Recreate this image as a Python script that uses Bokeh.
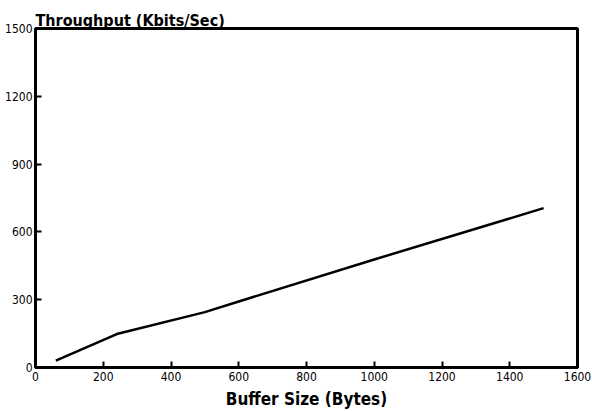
from bokeh.plotting import figure
from bokeh.models import Range1d, FixedTicker
from bokeh.embed import file_html
from bokeh.resources import INLINE

buffer_size = [60, 240, 500, 600, 1000, 1500]
throughput = [30, 148, 245, 292, 478, 705]
x_ticks = [0, 200, 400, 600, 800, 1000, 1200, 1400, 1600]
y_ticks = [0, 300, 600, 900, 1200, 1500]

FONT = "'DejaVu Sans Condensed', 'Liberation Sans', sans-serif"

p = figure(width=592, height=411, output_backend="svg", toolbar_location=None,
           x_range=Range1d(0, 1600), y_range=Range1d(0, 1500),
           min_border_left=35, min_border_right=15, min_border_top=28, min_border_bottom=43,
           title="Throughput (Kbits/Sec)")
p.grid.visible = False
p.background_fill_color = "white"
p.border_fill_color = "white"
p.outline_line_color = "black"
p.outline_line_width = 3

p.title.align = "left"
p.title.offset = 0
p.title.standoff = -3
p.title.text_font = FONT
p.title.text_font_size = "16px"
p.title.text_font_style = "bold"
p.title.text_color = "black"

p.line(buffer_size, throughput, line_color="black", line_width=2.5)

for ax in (p.xaxis[0], p.yaxis[0]):
    ax.axis_line_width = 3
    ax.axis_line_color = "black"
    ax.major_tick_in = 6
    ax.major_tick_out = 0
    ax.major_tick_line_width = 2
    ax.minor_tick_line_color = None
    ax.major_label_text_font = FONT
    ax.major_label_text_font_size = "12px"
    ax.major_label_text_color = "black"
    ax.major_label_standoff = 3

p.xaxis[0].major_label_standoff = 4
p.xaxis[0].ticker = FixedTicker(ticks=x_ticks)
p.yaxis[0].ticker = FixedTicker(ticks=y_ticks)
p.xaxis[0].axis_label = "Buffer Size (Bytes)"
p.xaxis[0].axis_label_text_font = FONT
p.xaxis[0].axis_label_text_font_size = "17px"
p.xaxis[0].axis_label_text_font_style = "bold"
p.xaxis[0].axis_label_text_color = "black"
p.xaxis[0].axis_label_standoff = 5

open("out.html", "w").write(file_html(p, INLINE))
